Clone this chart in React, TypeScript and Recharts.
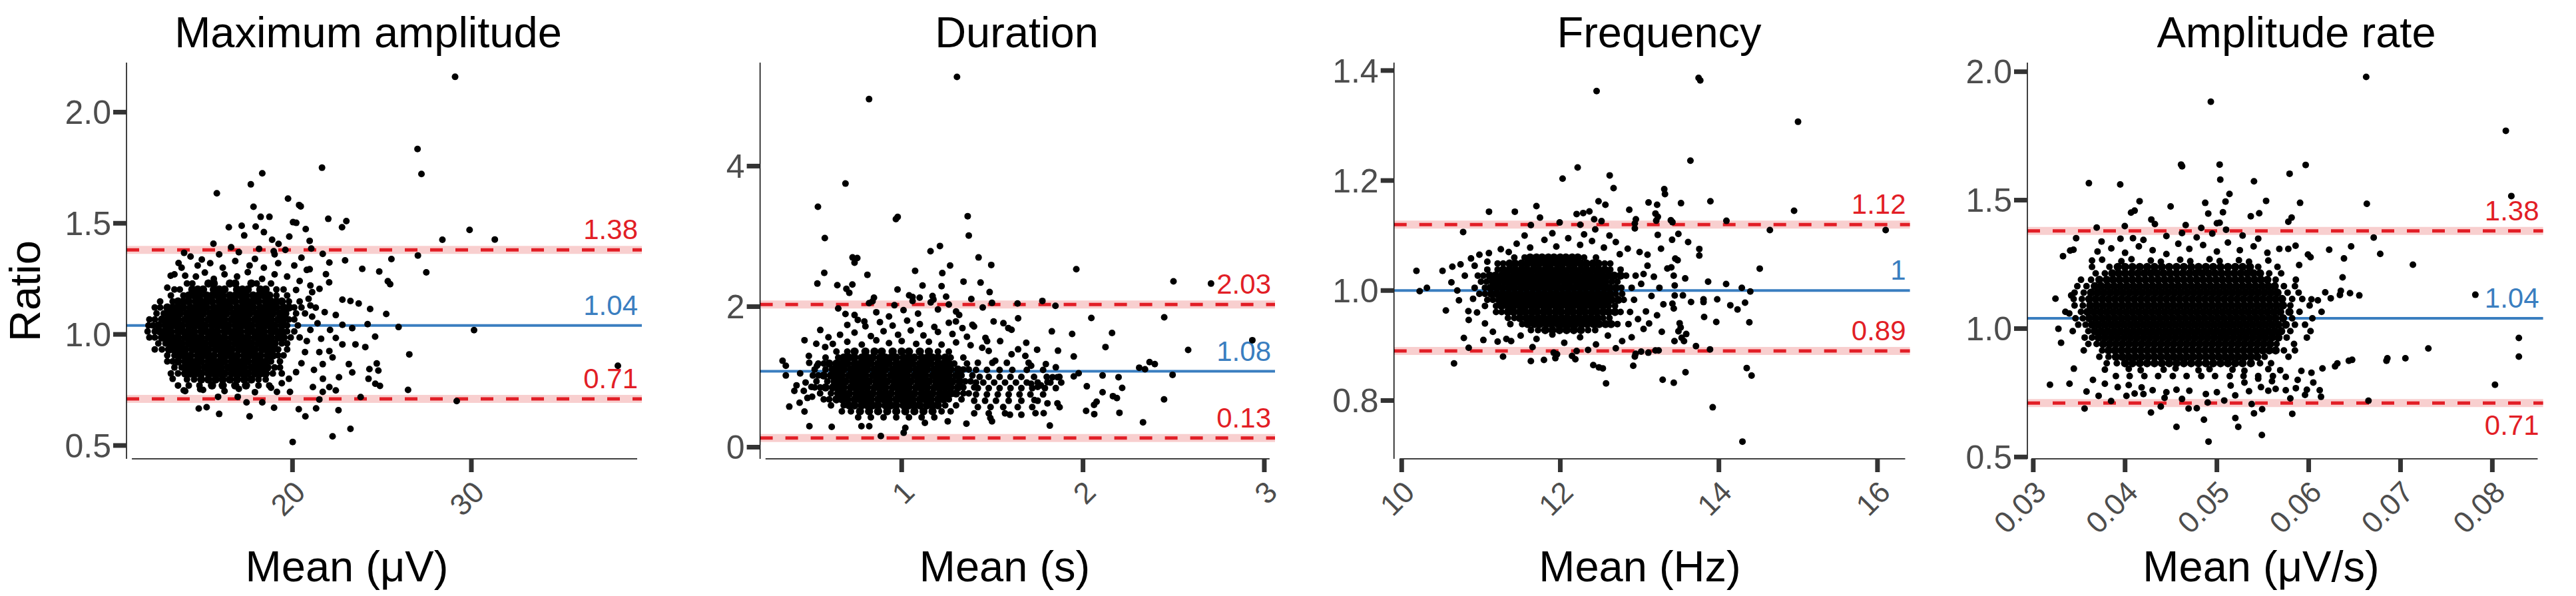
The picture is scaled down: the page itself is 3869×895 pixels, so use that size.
import React from "react";
import { ScatterChart, Scatter, XAxis, YAxis, ReferenceLine } from "recharts";

type Pt = [number, number];
type Row = [number, number[]];

const FONT = '"Liberation Sans", Arial, Helvetica, sans-serif';
const RED = "#E21E26";
const PINK = "#F8CFCF";
const BLUE = "#3A7EC0";

// ---------- Maximum amplitude ----------
const ampXTicks = [20, 30];
const ampYTicks = [0.5, 1.0, 1.5, 2.0];
const ampLimits = [1.38, 1.04, 0.71];
const ampSparse: Pt[] = [
  [29.09,2.159],[26.99,1.834],[27.21,1.722],[21.65,1.75],[18.31,1.725],[17.67,1.675],[15.77,1.635],[19.75,1.611],
  [20.37,1.582],[20.46,1.576],[17.82,1.574],[18.22,1.529],[18.71,1.529],[22.0,1.52],[23.01,1.51],[22.77,1.482],
  [29.9,1.47],[16.44,1.482],[17.16,1.489],[17.94,1.485],[20.03,1.505],[20.21,1.502],[20.74,1.474],[28.38,1.426],
  [31.31,1.427],[15.58,1.408],[13.94,1.367],[13.63,1.321],[25.53,1.339],[27.01,1.355],[27.48,1.279],[24.85,1.283],
  [23.9,1.295],[25.33,1.239],[25.46,1.226],[25.24,1.092],[25.93,1.033],[30.15,1.019],[26.53,0.91],[26.46,0.75],
  [29.18,0.7],[38.19,0.859],[23.81,0.718],[23.24,0.575],[22.24,0.541],[20.01,0.516],[22.57,0.659],[20.72,0.631],
  [20.35,0.663],[21.32,0.667],[18.97,0.67],[17.6,0.631],[15.9,0.642],[14.76,0.666],[15.2,0.672],[24.3,0.844],
  [24.8,0.837],[24.89,0.768],[24.25,0.8],[24.63,0.778],[24.71,0.869],[24.07,0.943],[24.62,0.99],[24.34,1.114],
  [23.7,1.139],[23.24,1.15],[22.79,1.156],[24.2,1.046],
  [17.43,0.694],[18.31,0.694],[16.94,0.719],[13.92,0.748],[14.84,0.753],[15.84,0.719],[21.5,0.707],[21.69,0.741],
  [19.13,0.741],[19.86,0.741],
  [16.57,1.392],[18.13,1.385],[18.95,1.374],[21.05,1.386],[21.69,1.362],[22.06,1.323],[22.94,1.333],[20.96,1.421],
  [19.82,1.44],[17.3,1.445],[18.4,1.46],[18.86,1.426],[19.22,1.407],[14.93,1.337],[14.0,1.264],[13.19,1.264],
  [15.1,1.278],[20.96,1.293],[21.87,1.271],[22.05,1.234],[21.51,1.205],
  [22.42,1.087],[22.79,1.043],[23.34,1.028],[22.42,0.984],[22.79,0.955],[23.52,0.955],[22.06,0.925],[23.15,0.866],
  [23.34,0.829],[22.6,0.807],[22.24,0.896],[21.69,0.866],[22.06,0.763],[21.14,0.763],[22.42,0.748],
  [13.4,1.27],[14.6,1.26],[15.6,1.25],[16.2,1.27],[16.9,1.26],[17.5,1.28],[18.3,1.25],[19.0,1.27],[19.7,1.26],
  [20.4,1.24],[21.0,1.22],[13.0,1.21],[20.2,1.2],[21.1,1.19],[13.8,1.3],[14.7,1.31],[15.4,1.32],[16.1,1.3],
  [16.8,1.33],[17.6,1.31],[18.4,1.3],[19.2,1.32],[20.1,1.31],[20.8,1.29],[14.3,1.35],[15.9,1.36],[17.0,1.37],
  [17.9,1.34],[19.0,1.36],[19.6,1.38],[20.5,1.345],
  [13.3,0.8],[13.6,0.77],[14.0,0.745],[15.0,0.75],[16.2,0.745],[17.0,0.755],[17.9,0.74],[18.8,0.76],[19.4,0.78],
  [19.8,0.8],[20.2,0.83],[20.5,0.87],[20.7,0.92],[20.8,0.97],[21.0,1.02],[21.1,1.08],[21.0,1.13],[20.9,1.16],
  [21.4,1.05],[21.6,0.98],[21.5,0.92],[21.3,1.12],[21.8,1.1],[22.1,1.02],[21.2,0.84],[21.7,0.8],
];
const ampDense: Row[] = [
  [1.229,[14.1,14.4,15.3,15.6,16.5,16.8,17.7,18.0,18.8]],
  [1.202,[13.4,13.7,14.4,14.7,15.0,15.6,15.9,16.2,16.9,17.2,17.5,18.2,18.5,19.1,19.5]],
  [1.175,[13.2,13.9,14.2,14.5,14.8,15.2,15.5,15.8,16.1,16.5,16.8,17.1,17.4,17.8,18.1,18.4,18.7,19.1,19.7]],
  [1.148,[12.6,13.3,13.6,13.9,14.2,14.6,14.9,15.2,15.5,15.9,16.2,16.5,16.8,17.2,17.5,17.8,18.1,18.5,18.8,19.1,19.4,19.8,20.4]],
  [1.121,[12.3,12.6,13.0,13.3,13.6,13.9,14.3,14.6,14.9,15.2,15.6,15.9,16.2,16.5,16.9,17.2,17.5,17.8,18.2,18.5,18.8,19.1,19.5,19.8,20.1,20.5]],
  [1.094,[12.4,12.8,13.1,13.4,13.7,14.1,14.4,14.7,15.0,15.4,15.7,16.0,16.3,16.7,17.0,17.3,17.6,18.0,18.3,18.6,18.9,19.3,19.6,20.2,20.7]],
  [1.067,[12.0,12.3,12.7,13.0,13.3,13.6,14.0,14.3,14.6,14.9,15.3,15.6,15.9,16.2,16.6,16.9,17.2,17.5,17.9,18.2,18.5,18.8,19.2,19.5,19.8,20.1]],
  [1.04,[11.95,12.2,12.5,12.9,13.2,13.5,13.8,14.2,14.5,14.8,15.1,15.5,15.8,16.1,16.4,16.8,17.1,17.4,17.7,18.1,18.4,18.7,19.0,19.4,19.7,20.3]],
  [1.013,[11.9,12.3,12.6,12.9,13.2,13.6,13.9,14.2,14.5,14.9,15.2,15.5,15.8,16.2,16.5,16.8,17.1,17.5,17.8,18.1,18.4,18.8,19.1,19.4,19.7,20.1]],
  [0.986,[12.0,12.3,12.7,13.0,13.3,13.6,14.0,14.3,14.6,14.9,15.3,15.6,15.9,16.2,16.6,16.9,17.2,17.5,17.9,18.2,18.5,18.8,19.2,19.5,19.9,20.4]],
  [0.959,[12.5,12.9,13.2,13.5,13.8,14.2,14.5,14.8,15.1,15.5,15.8,16.1,16.4,16.8,17.1,17.4,17.7,18.1,18.4,18.7,19.0,19.4,19.7]],
  [0.932,[12.3,12.7,13.1,13.4,13.7,14.0,14.4,14.7,15.0,15.3,15.7,16.0,16.3,16.6,17.0,17.3,17.6,17.9,18.3,18.6,18.9,19.2,19.7]],
  [0.905,[13.0,13.4,13.7,14.0,14.3,14.7,15.0,15.3,15.6,16.0,16.3,16.6,16.9,17.3,17.6,17.9,18.2,18.6,18.9,19.2,19.5]],
  [0.878,[13.0,13.3,13.6,14.0,14.3,14.6,14.9,15.3,15.6,15.9,16.2,16.6,16.9,17.2,17.5,17.9,18.2,18.5,18.8,19.3]],
  [0.851,[13.4,13.8,14.1,14.4,14.7,15.1,15.4,15.7,16.0,16.4,16.7,17.0,17.3,17.7,18.0,18.3,18.6,19.0,19.3]],
  [0.824,[13.2,13.6,14.0,14.3,14.6,14.9,15.3,15.6,15.9,16.2,16.6,16.9,17.2,17.5,17.9,18.2,18.5,18.9,19.4]],
  [0.797,[14.1,14.5,14.9,15.3,15.7,16.1,16.5,16.9,17.3,17.7,18.1,18.5]],
  [0.77,[14.2,14.8,15.5,16.1,16.8,17.4,18.1,18.7]],
];

// ---------- Duration ----------
const durXTicks = [1, 2, 3];
const durYTicks = [0, 2, 4];
const durLimits = [2.03, 1.08, 0.13];
const durSparse: Pt[] = [
  [1.305,5.27],[0.82,4.953],[0.69,3.752],[0.538,3.422],[0.968,3.245],[0.978,3.277],[1.364,3.287],[1.37,3.012],
  [0.576,2.975],[1.159,2.789],[1.211,2.863],[0.729,2.7],[0.755,2.691],[0.74,2.626],[1.424,2.7],[1.494,2.593],
  [1.267,2.584],[1.074,2.509],[1.224,2.477],[1.963,2.533],[0.573,2.481],[0.811,2.453],[1.341,2.356],[1.435,2.342],
  [1.115,2.3],[1.22,2.291],[0.535,2.328],[0.645,2.305],[0.695,2.253],[0.728,2.314],[0.711,2.197],[2.499,2.36],
  [2.706,2.328],[0.977,2.244],[1.041,2.16],[1.06,2.137],[1.17,2.151],[1.175,2.1],[1.245,2.142],[1.384,2.109],
  [1.485,2.207],[1.498,2.053],[0.847,2.128],[0.839,2.076],[1.099,2.128],[1.639,2.044],[1.776,2.081],[1.848,2.011],
  [1.447,1.988],[2.046,1.839],[2.448,1.848],[2.16,1.625],[1.94,1.611],[1.828,1.648],[2.934,1.522],[2.58,1.383],
  [2.124,1.425],[1.949,1.29],[1.862,1.373],[1.747,1.387],[2.31,1.131],[2.342,1.108],[2.367,1.21],[2.396,1.182],
  [2.494,1.029],[1.949,1.006],[1.976,1.052],[2.108,1.02],[2.196,0.996],[2.021,0.866],[2.216,0.843],[2.108,0.782],
  [2.165,0.726],[2.187,0.698],[2.075,0.647],[2.061,0.601],[2.447,0.68],[2.017,0.517],[2.062,0.47],[2.201,0.489],
  [2.331,0.354],[1.817,0.307],[1.859,0.624],[1.871,0.568],[1.804,0.624],[1.783,0.484],[1.738,0.484],[1.66,0.461],
  [1.597,0.461],[1.498,0.368],[1.489,0.414],[1.357,0.335],[1.254,0.368],[1.128,0.345],[1.011,0.205],[1.02,0.275],
  [0.885,0.158],[0.821,0.298],[0.778,0.298],[0.614,0.289],[0.491,0.298],[0.38,0.577],[0.437,0.633],[0.464,0.507],
  [0.408,0.801],[0.361,1.02],[0.343,1.229],[0.361,1.159],[0.464,1.522],[0.529,1.471],[0.488,1.299],[0.551,1.667],
  [0.596,1.564],[0.65,1.974],[0.69,1.895],[0.758,1.811],[0.794,1.788],[0.578,1.425],[0.533,1.159],[0.502,0.857],
  [0.506,0.717],[1.732,0.67],[1.75,0.857],[1.714,0.903],[1.768,0.88],[1.804,0.926],[1.832,0.996],[1.859,0.996],
  [1.85,1.136],[1.795,1.182],[1.714,1.159],[1.682,1.299],[1.606,1.322],[1.642,1.392],[1.687,1.485],[1.543,1.508],
  [1.588,1.695],[1.606,1.671],[1.642,1.834],[1.507,1.788],[1.561,1.764],[1.39,1.741],[1.399,1.718],[1.299,1.788],
  [1.317,1.881],[1.335,1.695],[1.462,1.555],[1.471,1.508],[1.444,1.415],[1.48,1.369],[1.516,1.229],
  [0.62,1.47],[0.7,1.5],[0.78,1.46],[0.86,1.52],[0.93,1.48],[1.0,1.51],[1.08,1.47],[1.15,1.5],[1.22,1.46],
  [1.3,1.49],[1.38,1.45],[0.66,1.6],[0.74,1.63],[0.83,1.58],[0.9,1.65],[0.98,1.6],[1.05,1.66],[1.12,1.59],
  [1.2,1.64],[1.28,1.61],[1.36,1.57],[0.7,1.74],[0.8,1.72],[0.88,1.78],[0.95,1.73],[1.03,1.8],[1.1,1.75],
  [1.18,1.71],[1.26,1.77],[0.74,1.88],[0.86,1.92],[0.93,1.86],[1.01,1.95],[1.09,1.9],[1.2,1.96],[1.3,1.93],
  [0.82,2.05],[0.96,2.02],[1.06,2.08],[1.16,2.06],[1.26,2.03],[0.44,1.05],[0.47,0.92],[0.46,0.8],[0.48,0.7],
  [0.49,1.2],[0.42,0.88],
  [1.42,1.2],[1.5,1.2],[1.58,1.2],[1.7,1.2],[1.41,1.1],[1.47,1.1],[1.54,1.1],[1.61,1.1],[1.69,1.1],[1.78,1.1],
  [1.43,1.0],[1.48,1.0],[1.54,1.0],[1.6,1.0],[1.66,1.0],[1.73,1.0],[1.8,1.0],[1.87,1.0],
  [1.41,0.92],[1.45,0.92],[1.51,0.92],[1.57,0.92],[1.63,0.92],[1.69,0.92],[1.75,0.92],[1.82,0.92],[1.88,0.92],
  [1.42,0.84],[1.48,0.84],[1.54,0.84],[1.6,0.84],[1.66,0.84],[1.72,0.84],[1.79,0.84],[1.85,0.84],
  [1.41,0.75],[1.47,0.75],[1.53,0.75],[1.59,0.75],[1.65,0.75],[1.71,0.75],[1.78,0.75],
  [1.4,0.66],[1.46,0.66],[1.52,0.66],[1.59,0.66],[1.66,0.66],[1.75,0.66],
  [1.42,0.57],[1.49,0.57],[1.56,0.57],[1.64,0.57],[1.72,0.57],[1.4,0.48],[1.48,0.48],[1.57,0.48],
  [0.76,0.425],[0.83,0.425],[0.9,0.425],[0.97,0.425],[1.04,0.425],[1.11,0.425],[1.18,0.425],
];
const durDense: Row[] = [
  [1.36,[0.64,0.7,0.74,0.8,0.85,0.89,0.95,1.0,1.04,1.1,1.15,1.2,1.26]],
  [1.275,[0.58,0.65,0.68,0.71,0.74,0.78,0.81,0.84,0.88,0.91,0.94,0.97,1.01,1.04,1.07,1.11,1.14,1.17,1.2,1.24,1.27,1.34]],
  [1.19,[0.54,0.57,0.6,0.64,0.67,0.7,0.74,0.77,0.8,0.83,0.87,0.9,0.93,0.97,1.0,1.03,1.06,1.1,1.13,1.16,1.2,1.23,1.26,1.29,1.36]],
  [1.105,[0.52,0.58,0.62,0.65,0.68,0.72,0.75,0.78,0.81,0.85,0.88,0.91,0.95,0.98,1.01,1.04,1.08,1.11,1.14,1.18,1.21,1.24,1.27,1.31,1.34,1.37]],
  [1.02,[0.51,0.54,0.57,0.61,0.64,0.67,0.71,0.74,0.77,0.8,0.84,0.87,0.9,0.94,0.97,1.0,1.03,1.07,1.1,1.13,1.17,1.2,1.23,1.26,1.3,1.33,1.39]],
  [0.935,[0.53,0.59,0.63,0.66,0.69,0.73,0.76,0.79,0.82,0.86,0.89,0.92,0.96,0.99,1.02,1.05,1.09,1.12,1.15,1.19,1.22,1.25,1.28,1.32,1.35,1.38]],
  [0.85,[0.52,0.55,0.58,0.62,0.65,0.68,0.72,0.75,0.78,0.81,0.85,0.88,0.91,0.95,0.98,1.01,1.04,1.08,1.11,1.14,1.18,1.21,1.24,1.27,1.31,1.34,1.4]],
  [0.765,[0.55,0.61,0.65,0.68,0.71,0.75,0.78,0.81,0.84,0.88,0.91,0.94,0.98,1.01,1.04,1.07,1.11,1.14,1.17,1.21,1.24,1.27,1.3,1.34,1.37]],
  [0.68,[0.57,0.6,0.64,0.67,0.7,0.74,0.77,0.8,0.83,0.87,0.9,0.93,0.97,1.0,1.03,1.06,1.1,1.13,1.16,1.2,1.23,1.26,1.33]],
  [0.595,[0.61,0.68,0.71,0.74,0.78,0.81,0.84,0.87,0.91,0.94,0.97,1.01,1.04,1.07,1.1,1.14,1.17,1.2,1.24,1.3]],
  [0.51,[0.67,0.72,0.77,0.82,0.87,0.92,0.97,1.02,1.07,1.12,1.17,1.22,1.27]],
];

// ---------- Frequency ----------
const freqXTicks = [10, 12, 14, 16];
const freqYTicks = [0.8, 1.0, 1.2, 1.4];
const freqLimits = [1.12, 1, 0.89];
const freqSparse: Pt[] = [
  [13.744,1.3865],[13.765,1.382],[12.458,1.3627],[14.998,1.3068],[13.641,1.2361],[12.219,1.2236],[12.029,1.2034],
  [12.623,1.2093],[12.672,1.1861],[13.311,1.1843],[13.32,1.1754],[13.893,1.1623],[13.522,1.1588],[12.482,1.1623],
  [12.569,1.1558],[13.221,1.1558],[13.113,1.16],[11.699,1.1534],[11.101,1.1433],[11.427,1.1433],[14.948,1.1451],
  [12.87,1.1469],[11.744,1.1326],[12.367,1.1439],[12.206,1.1391],[12.289,1.1409],[12.427,1.1296],[12.52,1.1261],
  [12.953,1.1296],[12.94,1.1219],[13.2,1.14],[13.21,1.127],[13.23,1.134],[13.394,1.1278],[13.414,1.1243],
  [14.095,1.1267],[14.643,1.11],[16.103,1.11],[10.775,1.1064],[11.992,1.1237],[11.629,1.1189],[12.252,1.1195],
  [12.441,1.1112],[12.94,1.113],[13.229,1.1011],[13.489,1.1029],[13.41,1.0922],[13.612,1.088],[13.753,1.0755],
  [13.753,1.0636],[13.27,1.0761],[13.45,1.058],[13.48,1.055],[13.4,1.042],[13.43,1.027],[14.515,1.0398],
  [13.864,1.0161],[14.091,1.0119],[14.289,1.0048],[14.396,0.9982],[13.979,0.9839],[14.144,0.9732],[14.235,0.9655],
  [14.33,0.978],[14.384,0.9423],[13.967,0.9429],[13.814,0.9518],[13.806,0.979],[13.806,0.984],[13.649,0.9792],
  [13.546,0.9911],[13.575,1.022],[13.443,1.009],[13.443,0.991],[13.431,0.9673],[13.414,0.976],[13.505,0.9405],
  [13.518,0.9328],[13.49,0.926],[13.53,0.914],[13.588,0.9209],[13.44,0.908],[13.56,0.908],[13.711,0.899],
  [13.888,0.893],[13.579,0.8513],[13.431,0.8323],[13.291,0.8377],[13.922,0.7877],[14.297,0.7253],[14.351,0.8591],
  [14.412,0.8454],[12.92,0.8632],[12.487,0.8603],[12.536,0.8585],[12.416,0.8644],[12.577,0.8311],[12.95,0.885],
  [13.02,0.889],[13.11,0.887],[12.94,0.88],[13.2,0.891],[13.24,0.891],[10.66,0.8674],[10.845,0.8959],
  [10.784,0.9138],[10.557,0.9637],[11.278,0.8799],[11.629,0.8716],[11.794,0.8739],[11.938,0.877],[11.959,0.884],
  [12.19,0.8751],[12.148,0.881],[12.206,0.89],[11.917,0.887],[11.03,0.91],[11.21,0.907],[11.32,0.912],[11.38,0.908],
  [10.186,1.0357],[10.227,0.9988],[10.318,1.0048],[10.515,1.0357],[10.639,1.0434],[10.742,1.0476],[10.874,1.0583],
  [11.08,1.0523],[10.627,1.0149],[10.701,1.0],[10.722,0.9822],[10.841,0.9625],[10.845,0.9465],[10.796,1.027],
  [11.25,1.075],[11.45,1.085],[11.62,1.078],[11.8,1.092],[11.95,1.08],[12.1,1.095],[12.25,1.083],[12.4,1.09],
  [12.55,1.078],[12.7,1.088],[12.85,1.076],[13.0,1.07],[11.55,1.1],[11.9,1.104],[12.3,1.102],[12.62,1.1],
  [11.1,1.068],[13.1,1.065],[13.1,1.045],[13.18,1.025],[13.25,1.005],[13.15,0.99],[13.3,0.975],[13.22,0.955],
  [13.12,0.94],[13.35,1.04],[13.05,0.93],[13.28,0.925],[11.5,0.918],[11.7,0.912],[11.9,0.92],[12.05,0.905],
  [12.25,0.915],[12.45,0.902],[12.6,0.918],[12.78,0.908],[12.9,0.915],[12.35,0.892],[12.7,0.895],[11.65,0.897],
  [10.92,1.045],[10.9,0.985],[10.95,0.96],[11.05,0.94],[11.15,0.925],[10.98,1.065],
  [13.02,1.012],[13.08,0.962],[12.98,0.948],[13.05,1.03],[11.35,1.07],[12.75,1.066],
];
const freqDense: Row[] = [
  [1.06,[11.42,11.55,11.62,11.7,11.77,11.85,11.92,12.0,12.07,12.15,12.22,12.3,12.45]],
  [1.049,[11.21,11.28,11.36,11.43,11.51,11.58,11.66,11.73,11.81,11.88,11.96,12.03,12.11,12.18,12.26,12.33,12.41,12.48,12.56,12.63]],
  [1.038,[11.08,11.21,11.28,11.36,11.43,11.51,11.58,11.66,11.73,11.81,11.88,11.96,12.03,12.11,12.18,12.26,12.33,12.41,12.48,12.56,12.63,12.76]],
  [1.027,[10.96,11.03,11.11,11.18,11.26,11.33,11.41,11.48,11.56,11.63,11.71,11.78,11.86,11.93,12.01,12.08,12.16,12.23,12.31,12.38,12.46,12.53,12.61,12.68,12.76,12.83,12.95]],
  [1.016,[11.0,11.07,11.15,11.22,11.3,11.37,11.45,11.52,11.6,11.67,11.75,11.82,11.9,11.97,12.05,12.12,12.2,12.27,12.35,12.42,12.5,12.57,12.65,12.72]],
  [1.005,[10.92,11.05,11.12,11.2,11.27,11.35,11.42,11.5,11.57,11.65,11.72,11.8,11.87,11.95,12.02,12.1,12.17,12.25,12.32,12.4,12.47,12.55,12.62,12.7,12.77,12.9]],
  [0.994,[10.98,11.05,11.13,11.2,11.28,11.35,11.43,11.5,11.58,11.65,11.73,11.8,11.88,11.95,12.03,12.1,12.18,12.25,12.33,12.4,12.48,12.55,12.63,12.7,12.78]],
  [0.983,[11.08,11.15,11.23,11.3,11.38,11.45,11.53,11.6,11.68,11.75,11.83,11.9,11.98,12.05,12.13,12.2,12.28,12.35,12.43,12.5,12.58,12.65,12.73,12.8,12.93]],
  [0.972,[11.05,11.19,11.26,11.34,11.41,11.49,11.56,11.64,11.71,11.79,11.86,11.94,12.01,12.09,12.16,12.24,12.31,12.39,12.46,12.54,12.61,12.69]],
  [0.961,[11.19,11.26,11.34,11.41,11.49,11.56,11.64,11.71,11.79,11.86,11.94,12.01,12.09,12.16,12.24,12.31,12.39,12.46,12.54,12.61,12.69,12.76,12.88]],
  [0.95,[11.34,11.42,11.49,11.57,11.64,11.72,11.79,11.87,11.94,12.02,12.09,12.17,12.24,12.32,12.39,12.47,12.54,12.62]],
  [0.939,[11.37,11.52,11.59,11.67,11.74,11.82,11.89,11.97,12.04,12.12,12.19,12.27,12.34,12.42,12.49,12.57,12.64,12.72,12.86]],
  [0.928,[11.63,11.72,11.81,11.9,11.99,12.08,12.17,12.26,12.35,12.44]],
];

// ---------- Amplitude rate ----------
const rateXTicks = [0.03, 0.04, 0.05, 0.06, 0.07, 0.08];
const rateYTicks = [0.5, 1.0, 1.5, 2.0];
const rateLimits = [1.38, 1.04, 0.71];
const rateSparse: Pt[] = [
  [0.06626,1.9798],[0.04934,1.883],[0.08147,1.77],[0.0461,1.6385],[0.04621,1.632],[0.0503,1.6385],[0.05967,1.6372],
  [0.03606,1.566],[0.03947,1.561],[0.05037,1.58],[0.05404,1.5736],[0.05792,1.6028],[0.08207,1.516],[0.06633,1.4857],
  [0.04158,1.4959],[0.04065,1.4513],[0.04104,1.459],[0.04496,1.4755],[0.04873,1.4895],[0.05094,1.4946],[0.05137,1.524],
  [0.05536,1.4972],[0.05906,1.4895],[0.04906,1.4475],[0.05066,1.4526],[0.0503,1.4118],[0.05369,1.4373],[0.05461,1.4488],
  [0.04286,1.4246],[0.04325,1.4067],[0.05778,1.4157],[0.05814,1.4322],[0.03467,1.352],[0.03691,1.393],[0.03997,1.399],
  [0.04086,1.352],[0.03744,1.339],[0.03402,1.3036],[0.03438,1.307],[0.03324,1.282],[0.06708,1.3545],[0.06779,1.2909],
  [0.07135,1.2488],[0.06462,1.3201],[0.06223,1.307],[0.06384,1.273],[0.05992,1.288],[0.0602,1.278],[0.05896,1.2475],
  [0.06369,1.1992],[0.05778,1.31],[0.05857,1.3227],[0.07815,1.1317],[0.06551,1.1291],[0.0645,1.138],[0.0634,1.131],
  [0.0618,1.141],[0.0635,1.147],[0.0624,1.118],[0.061,1.11],[0.0603,1.114],[0.08289,0.9636],[0.08289,0.891],
  [0.08029,0.7815],[0.07303,0.9228],[0.07053,0.8846],[0.06847,0.8745],[0.06857,0.8846],[0.06437,0.8745],[0.06473,0.8783],
  [0.06312,0.8643],[0.06287,0.853],[0.06651,0.7191],[0.06134,0.7344],[0.05821,0.6682],[0.0549,0.5854],[0.05233,0.6172],
  [0.05201,0.6516],[0.04909,0.5599],[0.04859,0.6452],[0.0456,0.6172],[0.04282,0.6733],[0.04692,0.6886],[0.04781,0.6898],
  [0.04389,0.6962],[0.05404,0.67],[0.05493,0.686],[0.05379,0.706],[0.03559,0.6886],[0.03182,0.7815],[0.03395,0.7853],
  [0.0358,0.7548],[0.03712,0.7382],[0.03848,0.7178],[0.04015,0.738],[0.04104,0.7471],[0.03442,0.8439],[0.03242,1.1164],
  [0.03413,1.1291],[0.03303,0.9445],[0.03274,0.9993],[0.03392,1.059],
  [0.05,0.752],[0.0488,0.745],[0.047,0.758],[0.0456,0.762],[0.0445,0.752],[0.043,0.76],[0.0418,0.771],[0.0404,0.78],
  [0.0392,0.772],[0.0378,0.785],[0.0365,0.8],[0.052,0.74],[0.0535,0.756],[0.0548,0.772],[0.0556,0.758],[0.0564,0.765],
  [0.0575,0.76],[0.0586,0.768],[0.0598,0.762],[0.0605,0.79],[0.0588,0.8],[0.0575,0.812],[0.056,0.795],[0.0545,0.805],
  [0.053,0.79],[0.0515,0.778],[0.0508,0.72],[0.049,0.712],[0.0462,0.726],[0.0443,0.73],[0.042,0.745],[0.058,0.728],
  [0.0596,0.742],[0.0612,0.76],[0.0603,0.828],[0.0615,0.845],[0.0592,0.835],
  [0.037,1.3],[0.0385,1.312],[0.04,1.295],[0.0415,1.32],[0.043,1.305],[0.0445,1.29],[0.0458,1.33],[0.047,1.31],
  [0.0485,1.325],[0.05,1.3],[0.0512,1.335],[0.0525,1.305],[0.054,1.32],[0.0555,1.295],[0.0568,1.31],[0.0445,1.36],
  [0.0462,1.372],[0.0478,1.355],[0.0495,1.37],[0.051,1.385],[0.0528,1.362],[0.0545,1.35],[0.042,1.345],[0.0395,1.35],
  [0.0483,1.392],[0.0466,1.403],[0.05,1.41],
  [0.039,0.815],[0.0405,0.815],[0.0421,0.815],[0.0436,0.815],[0.0452,0.815],[0.0467,0.815],[0.0483,0.815],
  [0.0498,0.815],[0.0514,0.815],[0.0529,0.815],[0.0545,0.815],[0.0561,0.815],
  [0.0364,1.265],[0.0375,1.268],[0.0396,1.262],[0.0407,1.27],[0.0428,1.265],[0.0439,1.26],[0.046,1.268],
  [0.0471,1.262],[0.0492,1.27],[0.0503,1.263],[0.0524,1.266],[0.0535,1.26],[0.0556,1.265],
  [0.0378,0.84],[0.0404,0.843],[0.0417,0.838],[0.0442,0.84],[0.0455,0.845],[0.048,0.838],[0.0492,0.842],
  [0.0517,0.84],[0.053,0.836],[0.0556,0.842],[0.0569,0.838],
];
const rateDense: Row[] = [
  [1.24,[0.0364,0.0383,0.0392,0.04,0.0408,0.0416,0.0424,0.0432,0.044,0.0448,0.0456,0.0464,0.0472,0.048,0.0488,0.0496,0.0504,0.0512,0.052,0.0528,0.0536,0.0545,0.0566]],
  [1.215,[0.0368,0.0378,0.0386,0.0393,0.04,0.0407,0.0414,0.0421,0.0428,0.0435,0.0442,0.0449,0.0456,0.0463,0.047,0.0477,0.0484,0.0491,0.0498,0.0505,0.0512,0.0519,0.0526,0.0533,0.054,0.0547,0.0557,0.057]],
  [1.19,[0.0352,0.0363,0.0372,0.038,0.0387,0.0394,0.0401,0.0408,0.0415,0.0422,0.0429,0.0436,0.0443,0.045,0.0457,0.0464,0.0471,0.0478,0.0485,0.0492,0.0499,0.0506,0.0513,0.052,0.0527,0.0534,0.0541,0.0548,0.0555,0.0564,0.0586]],
  [1.165,[0.0348,0.0358,0.0367,0.0374,0.0381,0.0388,0.0395,0.0402,0.0409,0.0416,0.0423,0.043,0.0437,0.0444,0.0451,0.0458,0.0465,0.0472,0.0479,0.0486,0.0493,0.05,0.0507,0.0514,0.0521,0.0528,0.0535,0.0542,0.0549,0.0556,0.0563,0.0573,0.0585]],
  [1.14,[0.0345,0.0355,0.0363,0.037,0.0377,0.0384,0.0391,0.0398,0.0405,0.0412,0.0419,0.0426,0.0433,0.044,0.0447,0.0454,0.0461,0.0468,0.0475,0.0482,0.0489,0.0496,0.0503,0.051,0.0517,0.0524,0.0531,0.0538,0.0545,0.0552,0.0559,0.0566,0.0577,0.0589]],
  [1.115,[0.0344,0.0353,0.0361,0.0368,0.0375,0.0382,0.0389,0.0396,0.0403,0.041,0.0417,0.0424,0.0431,0.0438,0.0445,0.0452,0.0459,0.0466,0.0473,0.048,0.0487,0.0494,0.0501,0.0508,0.0515,0.0522,0.0529,0.0536,0.0543,0.055,0.0557,0.0564,0.0571,0.0582,0.0593]],
  [1.09,[0.0345,0.0354,0.0362,0.0369,0.0376,0.0383,0.039,0.0397,0.0404,0.0411,0.0418,0.0425,0.0432,0.0439,0.0446,0.0453,0.046,0.0467,0.0474,0.0481,0.0488,0.0495,0.0502,0.0509,0.0516,0.0523,0.053,0.0537,0.0544,0.0551,0.0558,0.0565,0.0572,0.058,0.0601]],
  [1.065,[0.0335,0.0352,0.0359,0.0366,0.0373,0.038,0.0387,0.0394,0.0401,0.0408,0.0415,0.0422,0.0429,0.0436,0.0443,0.045,0.0457,0.0464,0.0471,0.0478,0.0485,0.0492,0.0499,0.0506,0.0513,0.052,0.0527,0.0534,0.0541,0.0548,0.0555,0.0562,0.0569,0.0579,0.059,0.0614]],
  [1.04,[0.0346,0.0354,0.0361,0.0368,0.0375,0.0382,0.0389,0.0396,0.0403,0.041,0.0417,0.0424,0.0431,0.0438,0.0445,0.0452,0.0459,0.0466,0.0473,0.048,0.0487,0.0494,0.0501,0.0508,0.0515,0.0522,0.0529,0.0536,0.0543,0.055,0.0557,0.0564,0.0572,0.0582,0.0604]],
  [1.015,[0.0349,0.0357,0.0364,0.0371,0.0378,0.0385,0.0392,0.0399,0.0406,0.0413,0.042,0.0427,0.0434,0.0441,0.0448,0.0455,0.0462,0.0469,0.0476,0.0483,0.049,0.0497,0.0504,0.0511,0.0518,0.0525,0.0532,0.0539,0.0546,0.0553,0.056,0.0567,0.0575,0.0585,0.0596]],
  [0.99,[0.0343,0.036,0.0367,0.0374,0.0381,0.0388,0.0395,0.0402,0.0409,0.0416,0.0423,0.043,0.0437,0.0444,0.0451,0.0458,0.0465,0.0472,0.0479,0.0486,0.0493,0.05,0.0507,0.0514,0.0521,0.0528,0.0535,0.0542,0.0549,0.0556,0.0563,0.057,0.058,0.0602]],
  [0.965,[0.0356,0.0364,0.0371,0.0378,0.0385,0.0392,0.0399,0.0406,0.0413,0.042,0.0427,0.0434,0.0441,0.0448,0.0455,0.0462,0.0469,0.0476,0.0483,0.049,0.0497,0.0504,0.0511,0.0518,0.0525,0.0532,0.0539,0.0546,0.0553,0.056,0.0567,0.0576,0.0598]],
  [0.94,[0.036,0.0369,0.0376,0.0383,0.039,0.0397,0.0404,0.0411,0.0418,0.0425,0.0432,0.0439,0.0446,0.0453,0.046,0.0467,0.0474,0.0481,0.0488,0.0495,0.0502,0.0509,0.0516,0.0523,0.053,0.0537,0.0544,0.0551,0.0558,0.0565,0.0584]],
  [0.915,[0.0355,0.0375,0.0382,0.0389,0.0396,0.0403,0.041,0.0417,0.0424,0.0431,0.0438,0.0445,0.0452,0.0459,0.0466,0.0473,0.048,0.0487,0.0494,0.0501,0.0508,0.0515,0.0522,0.0529,0.0536,0.0543,0.055,0.0557,0.0564,0.0573,0.0585]],
  [0.89,[0.0372,0.0382,0.039,0.0397,0.0404,0.0411,0.0418,0.0425,0.0432,0.0439,0.0446,0.0453,0.046,0.0467,0.0474,0.0481,0.0488,0.0495,0.0502,0.0509,0.0516,0.0523,0.053,0.0537,0.0544,0.0552,0.0578]],
  [0.865,[0.038,0.0391,0.04,0.0408,0.0416,0.0424,0.0432,0.044,0.0448,0.0456,0.0464,0.0472,0.048,0.0488,0.0496,0.0504,0.0512,0.052,0.0528,0.0537,0.0547,0.0559]],
];

const toPoints = (pts: Pt[]) => pts.map(([x, y]) => ({ x, y }));
// the two outermost points of each run stay single-sized, the inner ones are overplotted
const rowPoints = (rows: Row[]) =>
  rows.flatMap(([y, xs]) => xs.map((x, i) => ({ x, y, edge: i < 2 || i >= xs.length - 2 })));

const dot = (p: any) => <circle cx={p.cx} cy={p.cy} r={5} fill="#000" />;
const denseDot = (p: any) => (
  <circle cx={p.cx} cy={p.cy} r={p.payload && p.payload.edge ? 5 : 6.2} fill="#000" />
);

const lineLabel = (text: string, color: string, below: boolean) => (p: any) => {
  const vb = p.viewBox || {};
  return (
    <text
      x={vb.x + vb.width - 6}
      y={below ? vb.y + 48 : vb.y - 16}
      textAnchor="end"
      fill={color}
      fontSize={42}
      fontFamily={FONT}
    >
      {text}
    </text>
  );
};

// rotated tick text: its top-right corner sits just under the tick mark
const xTick = (fmt: (v: number) => string) => (p: any) => (
  <g transform={`translate(${p.x - 1},${p.y + 10})`}>
    <text textAnchor="end" dy="0.72em" transform="rotate(-45)" fill="#4D4D4D" fontSize={45} fontFamily={FONT}>
      {fmt(p.payload.value)}
    </text>
  </g>
);

interface PanelProps {
  left: number;
  width: number;
  yAxisWidth: number;
  marginRight: number;
  xDomain: [number, number];
  yDomain: [number, number];
  axisSpan: [number, number];
  xTicks: number[];
  yTicks: number[];
  xFmt: (v: number) => string;
  yFmt: (v: number) => string;
  limits: number[];
  lowerBelow?: boolean;
  sparse: Pt[];
  dense: Row[];
}

function Panel(props: PanelProps) {
  const [upper, mean, lower] = props.limits;
  return (
    <div style={{ position: "absolute", left: props.left, top: 0 }}>
      <ScatterChart
        width={props.width}
        height={895}
        margin={{ top: 94, right: props.marginRight, bottom: 0, left: 0 }}
      >
        <XAxis
          type="number"
          dataKey="x"
          domain={props.xDomain}
          ticks={props.xTicks}
          interval={0}
          allowDataOverflow
          height={206}
          axisLine={false}
          tickSize={20}
          tickMargin={0}
          tickLine={{ stroke: "#333333", strokeWidth: 7 }}
          tick={xTick(props.xFmt)}
        />
        <YAxis
          type="number"
          dataKey="y"
          domain={props.yDomain}
          ticks={props.yTicks}
          interval={0}
          allowDataOverflow
          width={props.yAxisWidth}
          tickFormatter={props.yFmt}
          tickSize={20}
          tickMargin={3}
          tickLine={{ stroke: "#333333", strokeWidth: 7 }}
          axisLine={{ stroke: "#000", strokeWidth: 1.5 }}
          tick={{ fill: "#4D4D4D", fontSize: 50, fontFamily: FONT }}
        />
        <ReferenceLine
          segment={[
            { x: props.axisSpan[0], y: props.yDomain[0] },
            { x: props.axisSpan[1], y: props.yDomain[0] },
          ]}
          stroke="#000"
          strokeWidth={1.5}
          ifOverflow="visible"
        />
        <ReferenceLine y={upper} stroke={PINK} strokeWidth={12} />
        <ReferenceLine y={lower} stroke={PINK} strokeWidth={12} />
        <ReferenceLine
          y={upper}
          stroke={RED}
          strokeWidth={5}
          strokeDasharray="19 19"
          label={lineLabel(String(upper), RED, false)}
        />
        <ReferenceLine
          y={lower}
          stroke={RED}
          strokeWidth={5}
          strokeDasharray="19 19"
          label={lineLabel(String(lower), RED, !!props.lowerBelow)}
        />
        <ReferenceLine y={mean} stroke={BLUE} strokeWidth={4} label={lineLabel(String(mean), BLUE, false)} />
        <Scatter data={rowPoints(props.dense)} shape={denseDot} isAnimationActive={false} />
        <Scatter data={toPoints(props.sparse)} shape={dot} isAnimationActive={false} />
      </ScatterChart>
    </div>
  );
}

const fixed1 = (v: number) => v.toFixed(1);
const plain = (v: number) => String(v);
const fixed2 = (v: number) => v.toFixed(2);

export default function App() {
  return (
    <div
      style={{
        position: "absolute",
        left: 0,
        top: 0,
        width: 3869,
        height: 895,
        background: "#fff",
        overflow: "hidden",
        fontFamily: FONT,
      }}
    >
      <Panel
        left={0}
        width={980}
        yAxisWidth={190}
        marginRight={16}
        xDomain={[10.72, 39.53]}
        yDomain={[0.44, 2.223]}
        axisSpan={[11.02, 39.27]}
        xTicks={ampXTicks}
        yTicks={ampYTicks}
        xFmt={plain}
        yFmt={fixed1}
        limits={ampLimits}
        sparse={ampSparse}
        dense={ampDense}
      />
      <Panel
        left={980}
        width={975}
        yAxisWidth={161.6}
        marginRight={40}
        xDomain={[0.219, 3.059]}
        yDomain={[-0.166, 5.473]}
        axisSpan={[0.249, 3.029]}
        xTicks={durXTicks}
        yTicks={durYTicks}
        xFmt={plain}
        yFmt={plain}
        limits={durLimits}
        sparse={durSparse}
        dense={durDense}
      />
      <Panel
        left={1925}
        width={955}
        yAxisWidth={168.7}
        marginRight={11.4}
        xDomain={[9.903, 16.409]}
        yDomain={[0.694, 1.4144]}
        axisSpan={[9.975, 16.349]}
        xTicks={freqXTicks}
        yTicks={freqYTicks}
        xFmt={plain}
        yFmt={fixed1}
        limits={freqLimits}
        sparse={freqSparse}
        dense={freqDense}
      />
      <Panel
        left={2880}
        width={989}
        yAxisWidth={165}
        marginRight={49.4}
        xDomain={[0.02936, 0.08553]}
        yDomain={[0.4929, 2.0355]}
        axisSpan={[0.0298, 0.08494]}
        xTicks={rateXTicks}
        yTicks={rateYTicks}
        xFmt={fixed2}
        yFmt={fixed1}
        limits={rateLimits}
        lowerBelow
        sparse={rateSparse}
        dense={rateDense}
      />
      <svg
        width={3869}
        height={895}
        style={{ position: "absolute", left: 0, top: 0, pointerEvents: "none" }}
        fontFamily={FONT}
      >
        <text x={553} y={71} textAnchor="middle" fontSize={65} fill="#000">Maximum amplitude</text>
        <text x={1527} y={71} textAnchor="middle" fontSize={65} fill="#000">Duration</text>
        <text x={2492} y={71} textAnchor="middle" fontSize={65} fill="#000">Frequency</text>
        <text x={3449} y={71} textAnchor="middle" fontSize={65} fill="#000">Amplitude rate</text>
        <text x={521} y={873} textAnchor="middle" fontSize={65} fill="#000">Mean (μV)</text>
        <text x={1509} y={873} textAnchor="middle" fontSize={65} fill="#000">Mean (s)</text>
        <text x={2463} y={873} textAnchor="middle" fontSize={65} fill="#000">Mean (Hz)</text>
        <text x={3396} y={873} textAnchor="middle" fontSize={65} fill="#000">Mean (μV/s)</text>
        <text x={60} y={437} textAnchor="middle" fontSize={65} fill="#000" transform="rotate(-90 60 437)">Ratio</text>
      </svg>
    </div>
  );
}
